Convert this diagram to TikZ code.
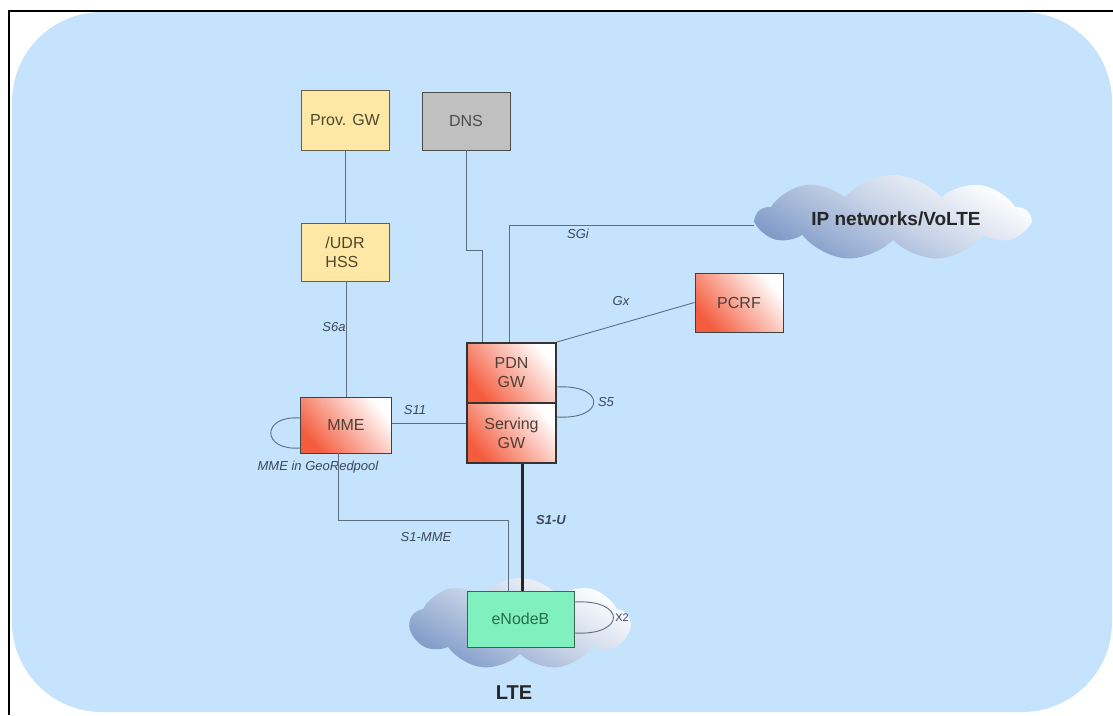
\documentclass[tikz,border=0pt]{standalone}
\usepackage{fontspec}
\setmainfont{Liberation Sans}
\usetikzlibrary{shapes.symbols,calc}
\definecolor{bgblue}{RGB}{197,227,252}
\definecolor{linec}{RGB}{92,110,128}
\definecolor{labc}{RGB}{58,72,90}
\definecolor{yel}{RGB}{255,232,165}
\definecolor{yelb}{RGB}{100,96,70}
\definecolor{yelt}{RGB}{80,72,45}
\definecolor{grayf}{RGB}{192,192,192}
\definecolor{redc}{RGB}{244,92,62}
\definecolor{redt}{RGB}{80,62,56}
\definecolor{mint}{RGB}{128,240,190}
\definecolor{mintb}{RGB}{60,100,80}
\definecolor{mintt}{RGB}{40,110,70}
\definecolor{cloudc}{RGB}{128,155,200}
\tikzset{
  box/.style={rectangle, draw=yelb, line width=0.9pt, inner sep=2pt, align=center,
    font=\fontsize{16}{19}\selectfont},
  yellowbox/.style={box, fill=yel, text=yelt},
  graybox/.style={box, fill=grayf, draw=black!70, text=black!70},
  redbox/.style={box, draw=black!75, text=redt, top color=white, bottom color=redc, shading angle=-50},
  gwbox/.style={redbox, line width=2pt, draw=black!80},
  enbbox/.style={box, fill=mint, draw=mintb, text=mintt},
  conn/.style={draw=linec, line width=0.9pt},
  thickconn/.style={draw=black!85, line width=3pt},
  lab/.style={text=labc, font=\fontsize{13}{15}\selectfont\itshape, inner sep=1pt},
  cloudshape/.style={cloud, cloud puffs=9, cloud puff arc=100, draw=none,
    top color=white, bottom color=cloudc, middle color=white!55!cloudc, shading angle=-30},
  cloudtext/.style={font=\fontsize{19}{22}\selectfont\bfseries, text=black!85}
}
\begin{document}
\begin{tikzpicture}[x=1pt,y=-1pt]
\useasboundingbox (0,0) rectangle (1113,715);
\fill[white] (0,0) rectangle (1113,715);
\fill[bgblue, rounded corners=90pt] (12,12) rectangle (1112,712);
\draw[black, line width=1.6pt] (9,715) -- (9,11) -- (1113,11);

% clouds
\node[cloudshape, aspect=3.2, minimum width=272pt, minimum height=86pt] (ip) at (893,218) {};
\node[cloudtext] (iptext) at (896,219) {IP networks/VoLTE};
\node[cloudshape, aspect=2.4, minimum width=220pt, minimum height=92pt] (lte) at (520,624) {};
\node[font=\fontsize{20}{22}\selectfont\bfseries, text=black!85] (ltetext) at (514,693) {LTE};

% boxes
\node[yellowbox, minimum width=88pt, minimum height=60pt] (prov) at (345,120) {Prov. GW};
\node[graybox, minimum width=88pt, minimum height=58pt] (dns) at (466,121) {DNS};
\node[yellowbox, minimum width=88pt, minimum height=58pt, align=left] (hss) at (345,252) {/UDR\\HSS};
\node[redbox, minimum width=88pt, minimum height=59pt] (pcrf) at (739,302.5) {PCRF};
\node[redbox, minimum width=91pt, minimum height=56pt] (mme) at (346,425) {MME};
\node[gwbox, minimum width=89pt, minimum height=60pt] (pdn) at (511.5,373) {PDN\\GW};
\node[gwbox, minimum width=89pt, minimum height=60pt] (sgw) at (511.5,433) {Serving\\GW};
\node[enbbox, minimum width=107pt, minimum height=56pt] (enb) at (520.5,619) {eNodeB};

% connectors
\draw[conn] (prov) -- (hss);
\draw[conn] (hss.south) -- (hss.south -| mme.north) -- (mme.north);
\node[lab] (s6a) at (334,327) {S6a};
\draw[conn] (dns.south) -- ++(0,100) -| ([xshift=-29.5pt]pdn.north);
\draw[conn] ([xshift=-2pt]pdn.north) |- ([yshift=-7pt]ip.west);
\node[lab] (sgi) at (578,234) {SGi};
\draw[conn] (pdn.north east) -- (pcrf.west);
\node[lab] (gx) at (621,301) {Gx};
\draw[conn] ([yshift=2pt]mme.east) -- ([yshift=2pt]mme.east -| sgw.west);
\node[lab] (s11) at (415,410) {S11};
\draw[conn] ([yshift=-14pt]pdn.east) .. controls +(49,-3) and +(49,3) .. ([yshift=16pt]sgw.east);
\node[lab] (s5) at (606,402) {S5};
\draw[conn] ([yshift=7pt]mme.west) .. controls +(-39,-3) and +(-39,3) .. ([yshift=-23pt]mme.west);
\node[lab] (geo) at (318,467) {MME in GeoRedpool};
\draw[conn] ([xshift=-8pt]mme.south) -- ++(0,67) -| ([xshift=-12.5pt]enb.north);
\node[lab] (s1mme) at (426,537) {S1-MME};
\draw[thickconn] ([xshift=10.5pt]sgw.south) -- ([xshift=1.5pt]enb.north);
\node[lab, font=\fontsize{13}{15}\selectfont\bfseries\itshape] (s1u) at (551,520) {S1-U};
\draw[conn] ([yshift=17pt]enb.east) .. controls +(52,-3) and +(52,3) .. ([yshift=-14pt]enb.east);
\node[lab, font=\fontsize{11}{13}\selectfont] (x2) at (622,618) {X2};
\end{tikzpicture}
\end{document}
